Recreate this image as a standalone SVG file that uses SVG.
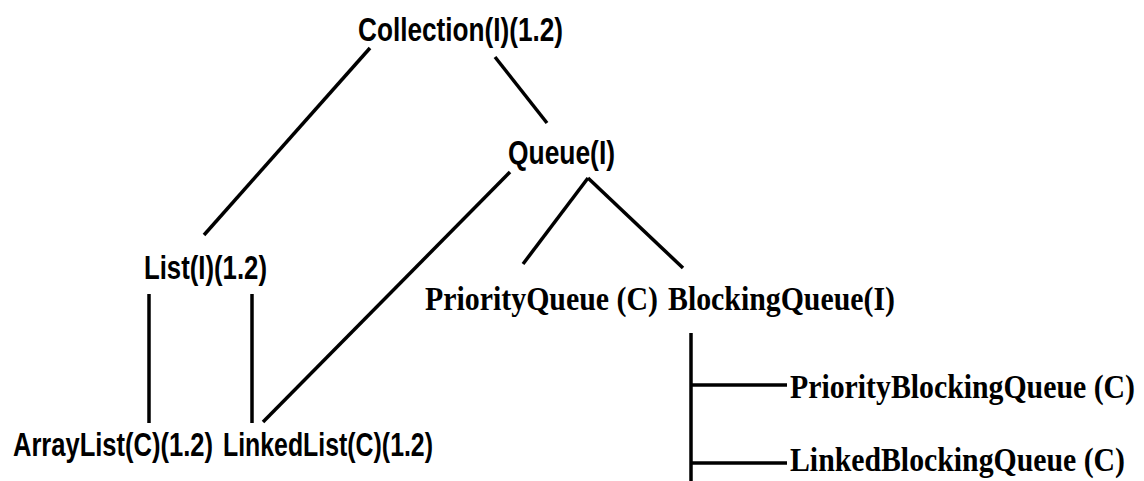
<svg xmlns="http://www.w3.org/2000/svg" width="1144" height="481" viewBox="0 0 1144 481">
<style>
.s{font-family:"Liberation Sans",Arial,sans-serif;font-weight:bold;font-size:26px;fill:#000}
.a{font-size:25px}
.r{font-family:"Liberation Serif","Times New Roman",serif;font-weight:bold;font-size:30px;fill:#000}
.l{stroke:#000;stroke-width:3.5;fill:none;stroke-linecap:butt}
</style>
<rect width="1144" height="481" fill="#fff"/>
<g id="connectors">
<line class="l" x1="370" y1="48" x2="204" y2="235"/>
<line class="l" x1="495" y1="57" x2="547" y2="123"/>
<line class="l" x1="588" y1="178" x2="523" y2="264"/>
<line class="l" x1="588" y1="178" x2="683" y2="268"/>
<line class="l" x1="510" y1="172" x2="263" y2="422"/>
<line class="l" x1="149" y1="294" x2="149" y2="423"/>
<line class="l" x1="252" y1="294" x2="252" y2="423"/>
<line class="l" x1="691" y1="333" x2="691" y2="481"/>
<line class="l" x1="691" y1="385" x2="787" y2="385"/>
<line class="l" x1="691" y1="463" x2="787" y2="463"/>
</g>
<g id="collection"><text class="s" x="358" y="41" transform="matrix(1,0,0,1.27,0,-11.07)" textLength="205" lengthAdjust="spacingAndGlyphs">Collection(I)(1.2)</text></g>
<g id="queue"><text class="s" x="508" y="164" transform="matrix(1,0,0,1.27,0,-44.28)" textLength="107" lengthAdjust="spacingAndGlyphs">Queue(I)</text></g>
<g id="list"><text class="s" x="144" y="279" transform="matrix(1,0,0,1.27,0,-75.33)" textLength="123" lengthAdjust="spacingAndGlyphs">List(I)(1.2)</text></g>
<g id="arraylist"><text class="s a" x="13" y="456" transform="matrix(1,0,0,1.3,0,-136.8)" textLength="200" lengthAdjust="spacingAndGlyphs">ArrayList(C)(1.2)</text></g>
<g id="linkedlist"><text class="s a" x="223" y="456" transform="matrix(1,0,0,1.3,0,-136.8)" textLength="210" lengthAdjust="spacingAndGlyphs">LinkedList(C)(1.2)</text></g>
<g id="priorityqueue"><text class="r" x="425" y="310" transform="matrix(1,0,0,1.1,0,-31)" textLength="233" lengthAdjust="spacingAndGlyphs">PriorityQueue (C)</text></g>
<g id="blockingqueue"><text class="r" x="668" y="310" transform="matrix(1,0,0,1.1,0,-31)" textLength="227" lengthAdjust="spacingAndGlyphs">BlockingQueue(I)</text></g>
<g id="priorityblockingqueue"><text class="r" x="790" y="398" transform="matrix(1,0,0,1.1,0,-39.8)" textLength="345" lengthAdjust="spacingAndGlyphs">PriorityBlockingQueue (C)</text></g>
<g id="linkedblockingqueue"><text class="r" x="790" y="471" transform="matrix(1,0,0,1.1,0,-47.1)" textLength="335" lengthAdjust="spacingAndGlyphs">LinkedBlockingQueue (C)</text></g>
</svg>
